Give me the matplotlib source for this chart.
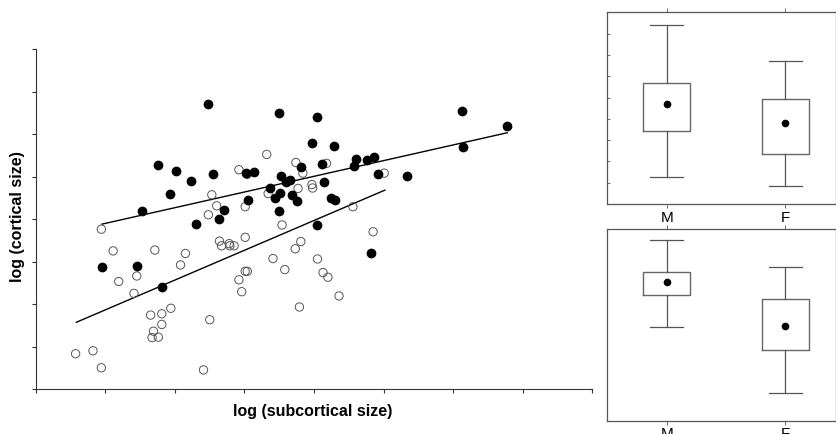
import matplotlib
matplotlib.use('Agg')
import matplotlib.pyplot as plt

plt.rcParams['font.family'] = ['Liberation Sans', 'DejaVu Sans']

# scatter data (arbitrary log units)
male_x = [2.48, 3.50, 4.05, 6.13, 6.78, 6.15, 3.97, 4.29, 1.76, 2.02,
          2.23, 2.55, 3.02, 3.14, 1.93, 1.53, 2.30, 2.64, 2.70, 3.05,
          3.52, 3.36, 3.51, 3.44, 3.49, 3.59, 3.66, 3.68, 3.76, 3.82,
          4.12, 4.14, 4.24, 4.30, 4.05, 4.58, 4.60, 4.76, 4.86, 4.92,
          5.34, 4.82, 0.95, 1.46, 1.81]
male_y = [6.71, 6.50, 6.39, 6.55, 6.19, 5.69, 5.79, 5.72, 5.27, 5.13,
          4.89, 5.06, 5.08, 5.11, 4.60, 4.18, 3.88, 3.99, 4.21, 4.44,
          5.01, 4.72, 4.62, 4.49, 4.18, 4.88, 4.91, 4.57, 4.42, 5.22,
          5.29, 4.88, 4.49, 4.44, 3.85, 5.24, 5.41, 5.38, 5.47, 5.05,
          5.02, 3.19, 2.87, 2.90, 2.40]

female_x = [3.32, 2.92, 3.04, 3.74, 4.18, 3.84, 3.97, 3.98, 3.77, 3.34,
            2.53, 2.60, 2.48, 3.01, 3.54, 4.56, 5.01, 4.85, 0.94, 1.11,
            1.71, 2.15, 2.08, 1.45, 1.19, 1.41, 1.94, 1.65, 1.81, 1.81,
            1.69, 1.67, 1.76, 2.50, 0.57, 0.82, 0.94, 2.41, 2.64, 2.67,
            2.78, 2.79, 2.85, 3.01, 2.92, 2.96, 3.01, 3.04, 3.41, 3.58,
            3.73, 3.81, 3.79, 4.05, 4.13, 4.20, 4.36]
female_y = [5.52, 5.16, 5.05, 5.33, 5.31, 5.08, 4.81, 4.73, 4.72, 4.60,
            4.57, 4.31, 4.10, 4.29, 3.86, 4.29, 5.08, 3.70, 3.76, 3.25,
            3.27, 3.19, 2.92, 2.66, 2.53, 2.25, 1.90, 1.74, 1.77, 1.52,
            1.36, 1.21, 1.22, 1.63, 0.83, 0.90, 0.50, 0.45, 3.48, 3.37,
            3.42, 3.37, 3.37, 3.57, 2.57, 2.29, 2.77, 2.77, 3.07, 2.81,
            3.30, 3.47, 1.93, 3.06, 2.74, 2.63, 2.19]

# regression line end points
male_fit_x = [0.95, 6.78]
male_fit_y = [3.88, 6.03]
female_fit_x = [0.58, 5.02]
female_fit_y = [1.57, 4.68]

# box plots (M, F)
groups = ['M', 'F']
upper_whislo = [1.28, 0.83]
upper_q1 = [3.41, 2.36]
upper_mean = [4.70, 3.78]
upper_q3 = [5.66, 4.91]
upper_whishi = [8.42, 6.70]

lower_whislo = [4.41, 1.29]
lower_q1 = [5.90, 3.32]
lower_mean = [6.50, 4.46]
lower_q3 = [6.96, 5.71]
lower_whishi = [8.47, 7.23]

fig = plt.figure(figsize=(8.37, 4.35), dpi=100)

# main scatter
ax = fig.add_axes([0.0430, 0.1034, 0.6643, 0.7816])
ax.scatter(female_x, female_y, s=36, facecolors='none', edgecolors='#555555',
           linewidths=0.7, zorder=3)
ax.scatter(male_x, male_y, s=36, color='black', zorder=4)
ax.plot(male_fit_x, male_fit_y, color='black', lw=1.0, zorder=2)
ax.plot(female_fit_x, female_fit_y, color='black', lw=1.0, zorder=2)
ax.set_xlim(0, 8)
ax.set_ylim(0, 8)
ax.set_xticks(range(9))
ax.set_yticks(range(9))
ax.set_xticklabels([])
ax.set_yticklabels([])
ax.tick_params(length=3, width=0.8, color='#333333')
for s in ['top', 'right']:
    ax.spines[s].set_visible(False)
for s in ['left', 'bottom']:
    ax.spines[s].set_color('#333333')
    ax.spines[s].set_linewidth(0.8)
ax.set_xlabel('log (subcortical size)', fontsize=11.5, fontweight='bold')
ax.set_ylabel('log (cortical size)', fontsize=11.5, fontweight='bold')
ax.xaxis.set_label_coords(0.497, -0.041)
ax.yaxis.set_label_coords(-0.02, 0.51)


def box_panel(rect, whislo, q1, mean, q3, whishi, inner_ticks):
    bx = fig.add_axes(rect)
    stats = []
    for i in range(len(groups)):
        stats.append({'whislo': whislo[i], 'q1': q1[i], 'med': mean[i],
                      'mean': mean[i], 'q3': q3[i], 'whishi': whishi[i],
                      'fliers': []})
    bx.bxp(stats, positions=[1, 2], widths=0.4, showmeans=True,
           capwidths=0.28, showfliers=False,
           boxprops=dict(color='#666666', linewidth=1.0),
           whiskerprops=dict(color='#555555', linewidth=0.9),
           capprops=dict(color='#555555', linewidth=0.9),
           medianprops=dict(visible=False),
           meanprops=dict(marker='o', markerfacecolor='black',
                          markeredgecolor='black', markersize=4.5))
    bx.set_xlim(0.5, 2.43)
    bx.set_ylim(0, 9)
    bx.set_xticks([1, 2])
    bx.set_xticklabels(groups, fontsize=11)
    bx.tick_params(axis='x', top=True, direction='out', length=3,
                   width=0.6, color='#555555', pad=1)
    if inner_ticks:
        bx.set_yticks(range(1, 9))
    else:
        bx.set_yticks([])
    bx.set_yticklabels([])
    bx.tick_params(axis='y', direction='in', length=2, width=0.6, color='#555555')
    for s in bx.spines.values():
        s.set_color('#555555')
        s.set_linewidth(0.9)
    return bx


box_panel([0.7256, 0.5287, 0.2737, 0.4407], upper_whislo, upper_q1,
          upper_mean, upper_q3, upper_whishi, True)
box_panel([0.7256, 0.0306, 0.2737, 0.4407], lower_whislo, lower_q1,
          lower_mean, lower_q3, lower_whishi, False)

fig.savefig('out.png', dpi=100)
